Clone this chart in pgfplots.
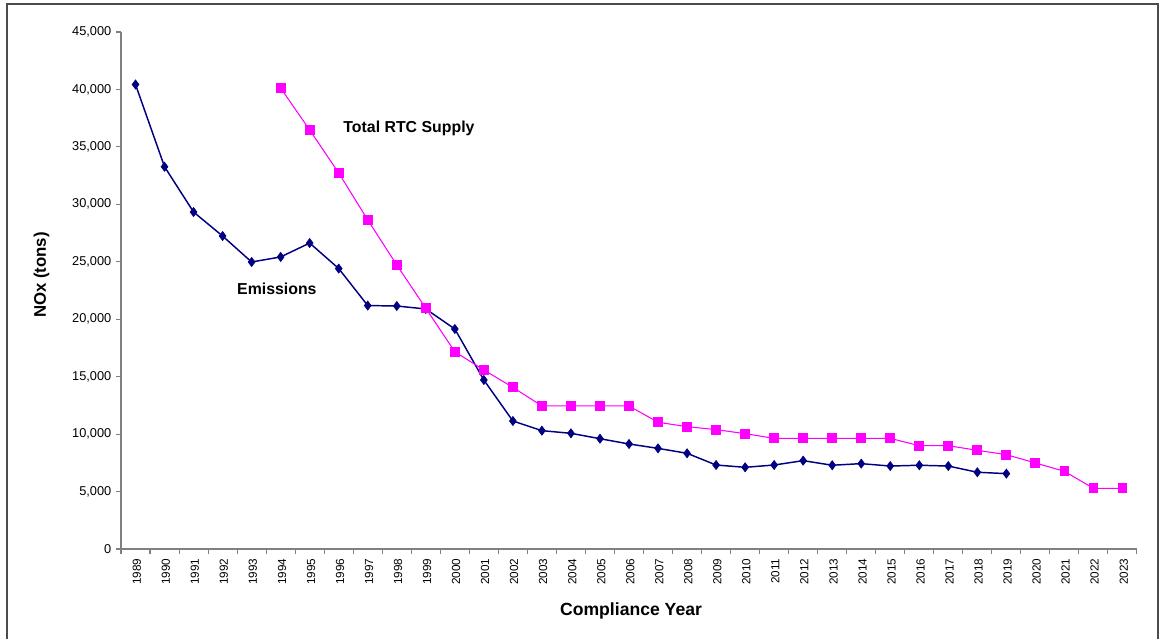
\documentclass[border=0pt]{standalone}
\usepackage{fontspec}
\setmainfont{Liberation Sans}
\usepackage{pgfplots}
\pgfplotsset{compat=1.18}

\definecolor{emnavy}{HTML}{000080}
\definecolor{rtcmag}{HTML}{FF00FF}
\definecolor{axgray}{HTML}{808080}

\begin{document}
\begin{tikzpicture}
\begin{axis}[
    scale only axis,
    width=762pt, height=387.75pt,
    xmin=1988.5, xmax=2023.5,
    ymin=0, ymax=45000,
    axis lines*=left,
    axis line style={axgray, line width=0.9pt},
    xtick={1989,...,2023},
    major x tick style={draw=none},
    minor xtick={1988.5,1989.5,...,2023.5},
    minor tick length=3.75pt,
    minor x tick style={axgray, line width=0.8pt},
    ytick={0,5000,...,45000},
    major tick length=3.75pt,
    tick align=outside,
    ytick style={axgray, line width=0.8pt},
    scaled y ticks=false,
    /pgf/number format/assume math mode=true,
    yticklabel style={font=\fontsize{9.6}{11}\selectfont, /pgf/number format/1000 sep={,}},
    xticklabel style={font=\fontsize{8.8}{10}\selectfont, rotate=90, anchor=east,
        /pgf/number format/1000 sep={}, yshift=-1pt},
    xlabel={\textbf{Compliance Year}},
    ylabel={\textbf{NOx (tons)}},
    xlabel style={font=\fontsize{13.2}{15}\selectfont, at={(axis description cs:0.502,-0.119)}, anchor=center},
    ylabel style={font=\fontsize{12.6}{15}\selectfont, at={(axis description cs:-0.0781,0.530)}, anchor=center},
    clip=false,
]
\addplot[color=emnavy, line width=1.1pt, mark=diamond*, mark size=3.4pt,
    mark options={fill=emnavy, draw=emnavy, line width=0.5pt}] coordinates {
    (1989,40430) (1990,33270) (1991,29330) (1992,27240) (1993,24980)
    (1994,25420) (1995,26630) (1996,24410) (1997,21190) (1998,21150)
    (1999,20890) (2000,19150) (2001,14710) (2002,11140) (2003,10300)
    (2004,10070) (2005,9600) (2006,9140) (2007,8760) (2008,8330)
    (2009,7310) (2010,7110) (2011,7310) (2012,7690) (2013,7290)
    (2014,7430) (2015,7220) (2016,7290) (2017,7220) (2018,6680)
    (2019,6560)
};
\addplot[color=rtcmag, line width=0.8pt, mark=square*, mark size=3.3pt,
    mark options={fill=rtcmag, draw=rtcmag}] coordinates {
    (1994,40120) (1995,36470) (1996,32730) (1997,28640) (1998,24720)
    (1999,20950) (2000,17170) (2001,15580) (2002,14070) (2003,12450)
    (2004,12450) (2005,12450) (2006,12450) (2007,11030) (2008,10650)
    (2009,10390) (2010,10040) (2011,9630) (2012,9630) (2013,9630)
    (2014,9630) (2015,9630) (2016,8990) (2017,8990) (2018,8590)
    (2019,8210) (2020,7490) (2021,6760) (2022,5280) (2023,5280)
};
\node[font=\fontsize{11.9}{13}\selectfont\bfseries] at (axis cs:1998.42,36640) {Total RTC Supply};
\node[font=\fontsize{11.9}{13}\selectfont\bfseries] at (axis cs:1993.87,22630) {Emissions};
\end{axis}
\draw[black!70, line width=1.1pt] (-85.5pt,-67.5pt) -- (-85.5pt,408.75pt) -- (777.75pt,408.75pt) -- (777.75pt,-67.5pt);
\pgfresetboundingbox
\useasboundingbox (-90.75pt,-67.5pt) rectangle (779.25pt,411.75pt);
\end{tikzpicture}
\end{document}
